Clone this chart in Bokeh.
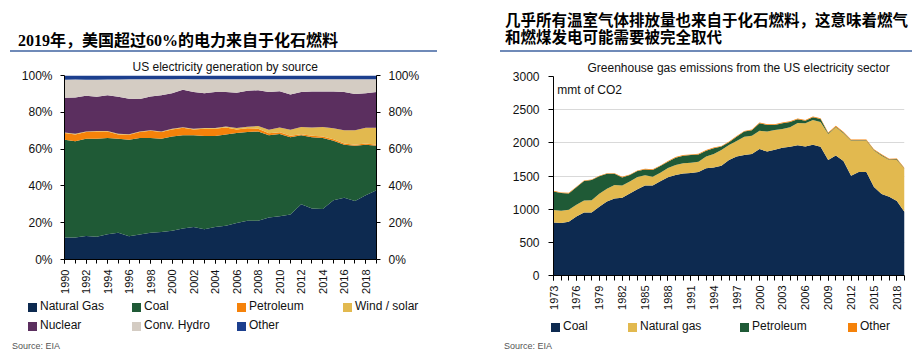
import math
from bokeh.plotting import figure
from bokeh.models import (ColumnDataSource, FixedTicker, PrintfTickFormatter, LinearAxis,
                          Range1d, Label, Div)
from bokeh.layouts import row, column
from bokeh.embed import file_html
from bokeh.resources import INLINE

# ---------------- data: left chart (share of US generation, %) ----------------
gen_years = list(range(1990, 2020))
natural_gas = [11.9, 12.0, 12.8, 12.3, 13.7, 14.5, 12.7, 13.6, 14.5, 15.0, 15.6, 16.8, 17.7, 16.5, 17.7,
               18.4, 19.8, 21.0, 21.0, 22.8, 23.5, 24.4, 30.0, 27.7, 27.5, 32.2, 33.6, 31.8, 34.9, 37.6]
coal = [53.2, 52.2, 52.8, 53.3, 52.3, 51.1, 52.4, 52.4, 51.5, 50.6, 51.3, 50.7, 49.8, 50.6, 49.4,
        49.6, 48.9, 48.3, 48.6, 44.7, 44.7, 42.1, 37.5, 38.8, 38.5, 32.4, 28.8, 30.0, 27.5, 24.2]
petroleum = [3.6, 3.8, 3.7, 4.0, 3.6, 2.4, 2.7, 3.3, 4.0, 3.7, 3.8, 4.1, 3.2, 3.9, 3.9,
             3.8, 2.0, 2.0, 1.5, 1.1, 1.0, 0.8, 0.6, 0.7, 0.8, 0.7, 0.6, 0.5, 0.6, 0.5]
wind_solar = [0.3, 0.3, 0.3, 0.3, 0.3, 0.3, 0.3, 0.3, 0.3, 0.3, 0.3, 0.3, 0.4, 0.4, 0.4,
              0.5, 0.7, 0.9, 1.4, 1.9, 2.5, 3.2, 3.9, 4.6, 5.2, 6.0, 7.2, 8.0, 8.6, 9.3]
nuclear = [18.9, 19.8, 19.4, 18.5, 19.4, 20.1, 19.2, 17.6, 18.3, 19.6, 19.4, 20.3, 19.9, 19.0, 19.6,
           18.7, 19.2, 19.5, 19.5, 20.6, 19.8, 19.2, 19.0, 19.5, 19.3, 20.0, 20.8, 19.7, 18.8, 19.4]
conv_hydro = [9.8, 9.7, 8.7, 9.3, 8.5, 9.4, 10.6, 10.7, 9.3, 8.7, 7.6, 5.9, 7.0, 7.5, 7.0,
              7.0, 7.4, 6.3, 6.0, 6.9, 6.5, 8.3, 7.0, 6.7, 6.7, 6.7, 7.0, 8.0, 7.6, 7.0]
other_gen = [2.3, 2.2, 2.3, 2.3, 2.2, 2.2, 2.1, 2.1, 2.1, 2.1, 2.0, 1.9, 2.0, 2.1, 2.0,
             2.0, 2.0, 2.0, 2.0, 2.0, 2.0, 2.0, 2.0, 2.0, 2.0, 2.0, 2.0, 2.0, 2.0, 2.0]
gen_labels = ["Natural Gas", "Coal", "Petroleum", "Wind / solar", "Nuclear", "Conv. Hydro", "Other"]
gen_label_years = [1990, 1992, 1994, 1996, 1998, 2000, 2002, 2004, 2006, 2008, 2010, 2012, 2014, 2016, 2018]
pct_ticks = [0, 20, 40, 60, 80, 100]

# ---------------- data: right chart (mmt CO2) ----------------
emi_years = list(range(1973, 2020))
coal_co2 = [800, 790, 810, 890, 948, 948, 1035, 1115, 1160, 1172,
            1235, 1300, 1355, 1355, 1420, 1483, 1515, 1538, 1545, 1560,
            1615, 1630, 1653, 1743, 1793, 1815, 1830, 1906, 1868, 1894,
            1924, 1940, 1964, 1944, 1972, 1940, 1740, 1810, 1726, 1505,
            1560, 1560, 1336, 1228, 1186, 1123, 958]
gas_co2 = [188, 185, 180, 178, 181, 186, 199, 192, 204, 185,
           183, 185, 158, 135, 130, 137, 151, 154, 155, 154,
           180, 200, 240, 225, 235, 278, 278, 278, 301, 300,
           285, 294, 335, 350, 372, 374, 394, 424, 418, 528,
           473, 473, 547, 579, 556, 619, 648]
petroleum_co2 = [280, 268, 248, 262, 296, 306, 261, 226, 171, 121,
                 97, 90, 85, 100, 100, 95, 109, 114, 115, 111,
                 85, 90, 50, 40, 65, 76, 81, 110, 100, 75,
                 85, 80, 55, 40, 40, 46, 10, 10, 10, 5,
                 5, 5, 10, 10, 5, 10, 4]
other_co2 = [8, 8, 8, 8, 8, 8, 8, 8, 8, 9,
             9, 9, 10, 10, 10, 10, 10, 11, 11, 11,
             11, 11, 11, 11, 11, 11, 12, 12, 12, 12,
             12, 12, 12, 12, 12, 12, 12, 12, 12, 12,
             12, 12, 12, 12, 12, 12, 12]
emi_labels = ["Coal", "Natural gas", "Petroleum", "Other"]
emi_label_years = [1973, 1976, 1979, 1982, 1985, 1988, 1991, 1994, 1997, 2000, 2003, 2006, 2009, 2012, 2015, 2018]
emi_ticks = [0, 500, 1000, 1500, 2000, 2500, 3000]

# ---------------- style ----------------
FONT = "Liberation Sans"
NAVY = "#0d2a50"
GREEN = "#1f5a36"
ORANGE = "#f5820a"
GOLD = "#e2b94f"
PURPLE = "#5b2f5f"
HYDRO = "#d4ccc3"
BLUE = "#1c3f8e"
gen_colors = [NAVY, GREEN, ORANGE, GOLD, PURPLE, HYDRO, BLUE]
emi_colors = [NAVY, GOLD, GREEN, ORANGE]


def style_axis(ax, tick_out=4):
    ax.axis_line_color = "black"
    ax.major_tick_line_color = "black"
    ax.minor_tick_line_color = "black"
    ax.major_tick_in = 0
    ax.major_tick_out = tick_out
    ax.minor_tick_in = 0
    ax.minor_tick_out = tick_out
    ax.major_label_text_font = FONT
    ax.major_label_text_font_size = "12px"
    ax.major_label_text_color = "#111111"


def style_title(t, offset):
    t.align = "left"
    t.offset = offset
    t.standoff = 3
    t.text_font = FONT
    t.text_font_size = "12px"
    t.text_font_style = "normal"
    t.text_color = "#111111"


# ---------------- left figure ----------------
src1 = ColumnDataSource(dict(year=gen_years, ng=natural_gas, coal=coal, pet=petroleum, wind=wind_solar,
                             nuc=nuclear, hydro=conv_hydro, oth=other_gen))
p1 = figure(width=452, height=247, min_border_left=56, min_border_right=84, min_border_top=23,
            min_border_bottom=40, x_range=Range1d(1990, 2019), y_range=Range1d(0, 100),
            output_backend="svg", toolbar_location=None, outline_line_color=None,
            title="US electricity generation by source")
style_title(p1.title, 68)
p1.varea_stack(stackers=["ng", "coal", "pet", "wind", "nuc", "hydro", "oth"], x="year",
               color=gen_colors, source=src1)
p1.grid.visible = False
p1.xaxis.ticker = FixedTicker(ticks=gen_label_years, minor_ticks=gen_years)
p1.xaxis.major_label_orientation = math.pi / 2
p1.yaxis.ticker = FixedTicker(ticks=pct_ticks)
p1.yaxis.formatter = PrintfTickFormatter(format="%d%%")
ax_r = LinearAxis(ticker=FixedTicker(ticks=pct_ticks), formatter=PrintfTickFormatter(format="%d%%"))
p1.add_layout(ax_r, "right")
for ax in p1.xaxis + p1.yaxis:
    style_axis(ax)
p1.yaxis.major_label_standoff = 8
p1.xaxis.major_label_standoff = 6
p1.xaxis.major_label_text_font_size = "11px"

# ---------------- right figure ----------------
src2 = ColumnDataSource(dict(year=emi_years, coal=coal_co2, gas=gas_co2, pet=petroleum_co2, oth=other_co2))
p2 = figure(width=452, height=263, min_border_left=93, min_border_right=8, min_border_top=24,
            min_border_bottom=40, x_range=Range1d(1973, 2019), y_range=Range1d(0, 3000),
            output_backend="svg", toolbar_location=None, outline_line_color=None,
            title="Greenhouse gas emissions from the US electricity sector")
style_title(p2.title, 34)
p2.varea_stack(stackers=["coal", "gas", "pet", "oth"], x="year", color=emi_colors, source=src2)
p2.xgrid.visible = False
p2.ygrid.grid_line_color = "#d9d9d9"
p2.ygrid.ticker = FixedTicker(ticks=emi_ticks)
p2.xaxis.ticker = FixedTicker(ticks=emi_label_years, minor_ticks=emi_years)
p2.xaxis.major_label_orientation = math.pi / 2
p2.yaxis.ticker = FixedTicker(ticks=emi_ticks)
for ax in p2.xaxis + p2.yaxis:
    style_axis(ax, 5)
p2.yaxis.major_label_standoff = 9
p2.xaxis.major_label_standoff = 5
p2.xaxis.major_label_text_font_size = "11px"
p2.add_layout(Label(x=1973.5, y=2790, text="mmt of CO2", text_font=FONT, text_font_size="12px",
                    text_baseline="middle", text_color="#111111"))

# ---------------- headlines ----------------
HFONT = "'Liberation Serif', 'Noto Sans CJK SC', serif"
left_html = (
    '<div style="position:relative;width:427px;height:44px;margin-left:2px;'
    'border-bottom:2px solid #6f8ab8;box-sizing:border-box;">'
    '<div style="position:absolute;left:8px;top:24px;line-height:18px;font-size:16px;font-weight:700;'
    'color:#000;white-space:nowrap;font-family:' + HFONT + ';">'
    '2019年，美国超过60%的电力来自于化石燃料</div></div>'
)
right_html = (
    '<div style="position:relative;width:412px;height:44px;margin-left:40px;'
    'border-bottom:2px solid #6f8ab8;box-sizing:border-box;">'
    '<div style="position:absolute;left:5px;top:4px;line-height:17px;font-size:15.5px;font-weight:700;'
    'color:#000;white-space:nowrap;font-family:' + HFONT + ';">'
    '几乎所有温室气体排放量也来自于化石燃料，这意味着燃气<br>和燃煤发电可能需要被完全取代</div></div>'
)
d1 = Div(text=left_html, width=452, height=44, margin=0)
d2 = Div(text=right_html, width=452, height=44, margin=0)


# ---------------- legends + source notes (HTML below each chart) ----------------
def legend_html(labels, colors, slots, height, src_x, src_top):
    parts = ['<div style="position:relative;width:452px;height:%dpx;font-family:\'%s\';">' % (height, FONT)]
    for lab, col, (lx, ty) in zip(labels, colors, slots):
        parts.append(
            '<div style="position:absolute;left:%dpx;top:%dpx;height:16px;display:flex;align-items:center;'
            'white-space:nowrap;font-size:12px;color:#111;">'
            '<span style="display:inline-block;width:9px;height:9px;background:%s;margin-right:3px;"></span>'
            '%s</div>' % (lx, ty, col, lab))
    parts.append('<div style="position:absolute;left:%dpx;top:%dpx;font-size:9px;line-height:11px;'
                 'color:#555;white-space:nowrap;">Source: EIA</div>' % (src_x, src_top))
    parts.append('</div>')
    return "".join(parts)


left_slots = [(20, 0), (124, 0), (229, 0), (335, 0), (20, 19), (124, 19), (229, 19)]
right_slots = [(91, 4), (168, 4), (280, 4), (388, 4)]
l1 = Div(text=legend_html(gen_labels, gen_colors, left_slots, 52, 4, 42), width=452, height=52, margin=0)
l2 = Div(text=legend_html(emi_labels, emi_colors, right_slots, 36, 44, 26), width=452, height=36, margin=0)

layout = row(column(d1, p1, l1), column(d2, p2, l2), margin=(8, 0, 0, 8))
open("out.html", "w").write(file_html(layout, INLINE))
